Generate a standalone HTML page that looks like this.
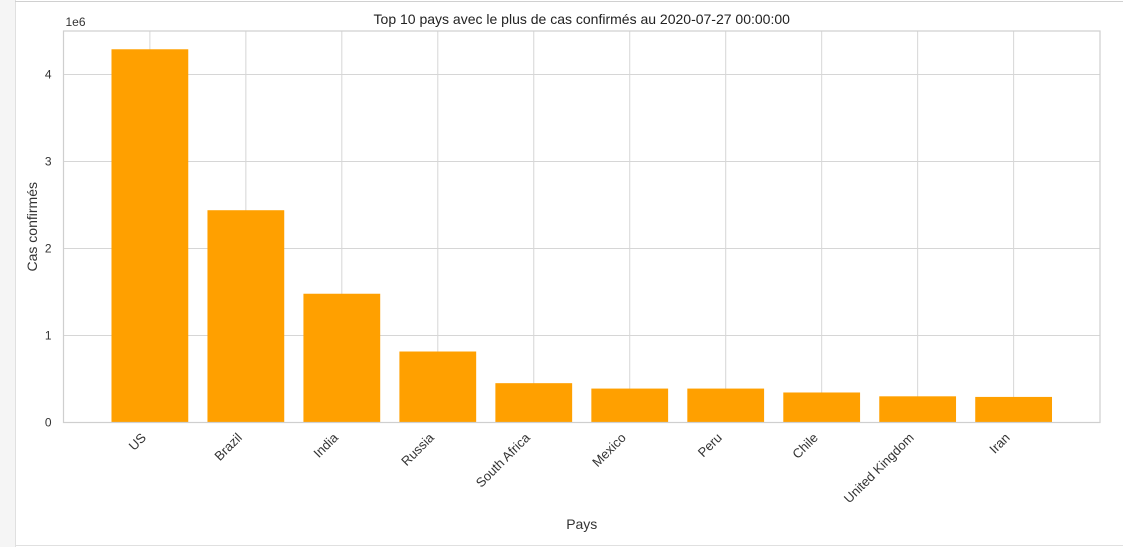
<!DOCTYPE html>
<html><head><meta charset="utf-8"><style>
body{margin:0;width:1123px;height:547px;overflow:hidden;background:#fff;font-family:"Liberation Sans",sans-serif;}
#side{position:absolute;left:0;top:0;width:15px;height:547px;background:#f5f5f5;border-right:1px solid #e0e0e0;}
#topline{position:absolute;left:15px;top:1px;width:1108px;height:1px;background:#d0d0d0;}
#botline{position:absolute;left:15px;top:545px;width:1108px;height:1px;background:#e0e0e0;}
svg{position:absolute;left:0;top:0;}
</style></head><body>
<div id="side"></div>
<div id="topline"></div>
<div id="botline"></div>
<svg id="chart" width="1123" height="547"></svg>
<script>
const categories=["US","Brazil","India","Russia","South Africa","Mexico","Peru","Chile","United Kingdom","Iran"];
const values=[4290000,2440000,1480000,816000,452000,390000,390000,345000,301000,294000];
const yTicks=[0,1,2,3,4];
const yTickLabels=["0","1","2","3","4"];
const L=63.5,R=1100,T=31,B=422.5;
const yMax=4.5e6;
function y(v){return B-(v/yMax)*(B-T);}
function x(i){return L+(i+0.9)*(R-L)/10.8;}
const bw=0.8*(R-L)/10.8;
const svg=document.getElementById('chart');
const NS='http://www.w3.org/2000/svg';
function mk(t,a,txt){const e=document.createElementNS(NS,t);for(const k in a)e.setAttribute(k,a[k]);if(txt!==undefined)e.textContent=txt;svg.appendChild(e);return e;}
yTicks.forEach((t,i)=>{const yy=y(t*1e6);
const g=mk('line',{x1:L,x2:R,y1:yy,y2:yy,stroke:'#d6d6d6','stroke-width':1});


const lb=mk('text',{x:L-12,y:yy+4,'text-anchor':'end','font-size':12,fill:'#333'},yTickLabels[i]);


});
categories.forEach((c,i)=>{const xx=x(i);
const g=mk('line',{x1:xx,x2:xx,y1:T,y2:B,stroke:'#d6d6d6','stroke-width':1});


});
categories.forEach((c,i)=>{const xx=x(i);
const b=mk('rect',{x:xx-bw/2,y:y(values[i]),width:bw,height:B-y(values[i]),fill:'#ffa000'});


const lb=mk('text',{x:0,y:0,'text-anchor':'end','font-size':13,fill:'#333',transform:`translate(${xx-3},${B+16}) rotate(-45)`},c);


});
const fr=mk('rect',{x:L,y:T,width:R-L,height:B-T,fill:'none',stroke:'#cfcfcf','stroke-width':1.2});


const t=mk('text',{x:(L+R)/2,y:24,'text-anchor':'middle','font-size':14,fill:'#222'},'Top 10 pays avec le plus de cas confirmés au 2020-07-27 00:00:00');


const o=mk('text',{x:L+2,y:26,'font-size':12,fill:'#333'},'1e6');


const xt=mk('text',{x:(L+R)/2,y:529,'text-anchor':'middle','font-size':14,fill:'#333'},'Pays');


const yt=mk('text',{x:0,y:0,'text-anchor':'middle','font-size':14,fill:'#333',transform:`translate(37,${(T+B)/2}) rotate(-90)`},'Cas confirmés');


</script>
</body></html>
